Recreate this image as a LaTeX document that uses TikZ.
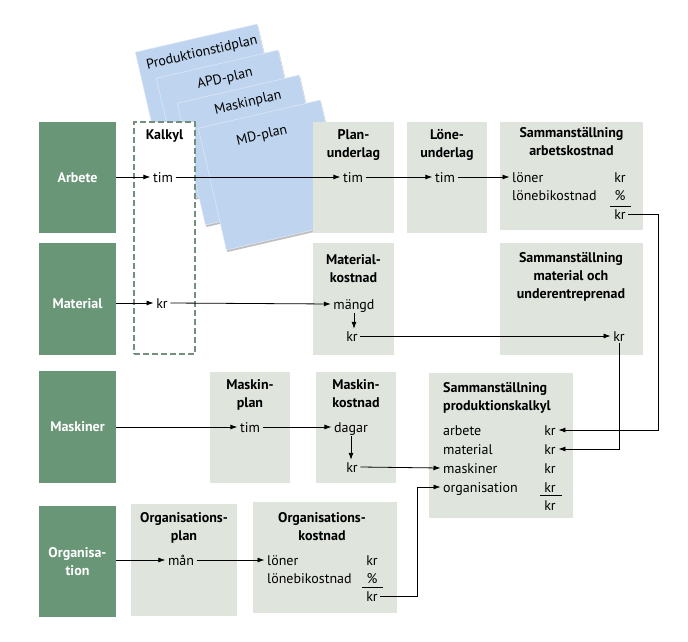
\documentclass[tikz,border=0pt]{standalone}
\usepackage{fontspec}
\setmainfont{PT Sans}
\usetikzlibrary{arrows.meta,shadows}
\definecolor{boxGreen}{HTML}{6A9678}
\definecolor{boxGrey}{HTML}{DFE5DD}
\definecolor{sheetBlue}{HTML}{BFD4EE}
\definecolor{dashGreen}{HTML}{73907E}
\begin{document}
\begin{tikzpicture}[x=1pt, y=-1pt,
    every node/.style={font=\fontsize{14}{18}\selectfont},
    greenStyle/.style={rectangle, fill=boxGreen, text=white, align=center, inner sep=0pt, minimum width=77pt, font=\fontsize{14}{18}\selectfont\bfseries},
    greyStyle/.style={rectangle, fill=boxGrey, inner sep=0pt},
    sheetStyle/.style={rectangle, fill=sheetBlue, draw=white!45!sheetBlue, line width=0.6pt, rotate=13, anchor=north west, minimum width=125pt, minimum height=125pt, drop shadow={shadow xshift=1pt, shadow yshift=-2pt, opacity=0.25, fill=black}},
    sheetText/.style={rotate=13, inner sep=0pt},
    titleStyle/.style={anchor=north, align=center, inner sep=0pt, font=\fontsize{14}{18}\selectfont\bfseries},
    valStyle/.style={inner xsep=2.5pt, inner ysep=2pt, text height=10pt, text depth=0pt},
    arrowStyle/.style={-{Latex[length=7pt,width=5pt]}, line width=0.8pt},
    ruleStyle/.style={line width=0.8pt}]
    \useasboundingbox (0,0) rectangle (688,642);

    % plan sheets
    \node[sheetStyle] (prodSheet) at (135,52) {};
    \node[sheetStyle] (apdSheet)  at (156,78) {};
    \node[sheetStyle] (maskSheet) at (177,103) {};
    \node[sheetStyle] (mdSheet)   at (198,128) {};
    \node[sheetText] (prodSheet_t) at (202,53)  {Produktionstidplan};
    \node[sheetText] (apdSheet_t)  at (225,79)  {APD-plan};
    \node[sheetText] (maskSheet_t) at (248,103) {Maskinplan};
    \node[sheetText] (mdSheet_t)   at (262,136) {MD-plan};

    % left column
    \node[greenStyle, minimum height=111pt] (arbete)       at (77.5,177.5) {Arbete};
    \node[greenStyle, minimum height=112pt, text height=18pt, text depth=0pt] (material) at (77.5,299) {Material};
    \node[greenStyle, minimum height=112pt] (maskiner)     at (77.5,427)   {Maskiner};
    \node[greenStyle, minimum height=111pt] (organisation) at (77.5,561.5) {Organisa-\\tion};

    \node[rectangle, fill=white, draw=dashGreen, line width=1.6pt, dash pattern=on 6pt off 3pt, minimum width=61pt, minimum height=232pt] (kalkyl) at (164.5,238) {};

    % grey boxes
    \node[greyStyle, minimum width=81pt,  minimum height=111pt] (planBox)     at (353.5,177.5) {};
    \node[greyStyle, minimum width=80pt,  minimum height=111pt] (loneBox)     at (447,177.5)   {};
    \node[greyStyle, minimum width=143pt, minimum height=108pt] (arbSumBox)   at (571.5,176)   {};
    \node[greyStyle, minimum width=81pt,  minimum height=112pt] (matBox)      at (353.5,299)   {};
    \node[greyStyle, minimum width=143pt, minimum height=112pt] (matSumBox)   at (571.5,299)   {};
    \node[greyStyle, minimum width=80pt,  minimum height=111pt] (maskPlanBox) at (250,427.5)   {};
    \node[greyStyle, minimum width=80pt,  minimum height=111pt] (maskCostBox) at (356,427.5)   {};
    \node[greyStyle, minimum width=144pt, minimum height=145pt] (prodBox)     at (501,445.5)   {};
    \node[greyStyle, minimum width=106pt, minimum height=112pt] (orgPlanBox)  at (184,560)     {};
    \node[greyStyle, minimum width=144pt, minimum height=111pt] (orgCostBox)  at (325,557.5)   {};

    % titles
    \node[titleStyle] (kalkyl_t)   at (164.5,129) {Kalkyl};
    \node[titleStyle] (plan_t)     at (353.5,129) {Plan-\\underlag};
    \node[titleStyle] (lone_t)     at (447,129)   {Löne-\\underlag};
    \node[titleStyle] (arbSum_t)   at (571.5,127) {Sammanställning\\arbetskostnad};
    \node[titleStyle] (mat_t)      at (353.5,254) {Material-\\kostnad};
    \node[titleStyle] (matSum_t)   at (571,252)   {Sammanställning\\material och\\underentreprenad};
    \node[titleStyle] (maskPlan_t) at (250,379)   {Maskin-\\plan};
    \node[titleStyle] (maskCost_t) at (356,379)   {Maskin-\\kostnad};
    \node[titleStyle, anchor=north west, align=left] (prod_t) at (443,382) {Sammanställning\\produktionskalkyl};
    \node[titleStyle] (orgPlan_t)  at (184,512)   {Organisations-\\plan};
    \node[titleStyle] (orgCost_t)  at (322,512)   {Organisations-\\kostnad};

    % values
    \node[valStyle] (arbKalk_tim) at (163,177) {tim};
    \node[valStyle] (planTim)     at (353,177) {tim};
    \node[valStyle] (loneTim)     at (445,177) {tim};
    \node[valStyle, anchor=west] (arbLoner)  at (509.5,177) {löner};
    \node[valStyle, anchor=west] (arbBikost) at (509.5,195) {lönebikostnad};
    \node[valStyle] (arbKr)    at (620,177) {kr};
    \node[valStyle] (arbPct)   at (620,195) {\%};
    \node[valStyle] (arbSumKr) at (620,214) {kr};

    \node[valStyle] (matKalk_kr) at (162,303) {kr};
    \node[valStyle] (matMangd)   at (354,304) {mängd};
    \node[valStyle] (matKr)      at (352,336) {kr};
    \node[valStyle] (matSumKr)   at (619,336) {kr};

    \node[valStyle] (maskTim)   at (250,427) {tim};
    \node[valStyle] (maskDagar) at (351,427) {dagar};
    \node[valStyle] (maskKr)    at (352,467) {kr};

    \node[valStyle, anchor=west] (prodArb)  at (440.5,430) {arbete};
    \node[valStyle, anchor=west] (prodMat)  at (440.5,449) {material};
    \node[valStyle, anchor=west] (prodMask) at (440.5,468) {maskiner};
    \node[valStyle, anchor=west] (prodOrg)  at (440.5,487) {organisation};
    \node[valStyle] (prodArbKr)  at (550,430) {kr};
    \node[valStyle] (prodMatKr)  at (550,449) {kr};
    \node[valStyle] (prodMaskKr) at (550,468) {kr};
    \node[valStyle] (prodOrgKr)  at (550,487) {kr};
    \node[valStyle] (prodSumKr)  at (550,505) {kr};

    \node[valStyle] (orgMan) at (181,560) {mån};
    \node[valStyle, anchor=west] (orgLoner)  at (264.5,560) {löner};
    \node[valStyle, anchor=west] (orgBikost) at (264.5,578) {lönebikostnad};
    \node[valStyle] (orgKr)    at (372,560) {kr};
    \node[valStyle] (orgPct)   at (372,578) {\%};
    \node[valStyle] (orgSumKr) at (372,596) {kr};

    % sum rules
    \draw[ruleStyle] (610,206) -- (631,206);
    \draw[ruleStyle] (540,495) -- (562,495);
    \draw[ruleStyle] (362,587) -- (383,587);

    \coordinate (arbBend) at (658,214);
    \coordinate (orgBend) at (417,596);

    % connectors
    \draw[arrowStyle] (arbete.east |- arbKalk_tim) -- (arbKalk_tim.west);
    \draw[arrowStyle] (arbKalk_tim.east) -- (planTim.west);
    \draw[arrowStyle] (planTim.east) -- (loneTim.west);
    \draw[arrowStyle] (loneTim.east) -- (arbLoner.west);
    \draw[arrowStyle] (arbSumKr.east) -- (arbBend) |- (prodArbKr.east);

    \draw[arrowStyle] (material.east |- matKalk_kr) -- (matKalk_kr.west);
    \draw[arrowStyle] (matKalk_kr.east) -- (matMangd.west);
    \draw[arrowStyle, shorten <=2pt] (matMangd.south) -- (matMangd.south |- matKr.north);
    \draw[arrowStyle] (matKr.east) -- (matSumKr.west);
    \draw[arrowStyle] (matSumKr.south) |- (prodMatKr.east);

    \draw[arrowStyle] (maskiner.east |- maskTim) -- (maskTim.west);
    \draw[arrowStyle] (maskTim.east) -- (maskDagar.west);
    \draw[arrowStyle, shorten <=2pt] (maskDagar.south) -- (maskDagar.south |- maskKr.north);
    \draw[arrowStyle] (maskKr.east) -- (prodMask.west);

    \draw[arrowStyle] (organisation.east |- orgMan) -- (orgMan.west);
    \draw[arrowStyle] (orgMan.east) -- (orgLoner.west);
    \draw[arrowStyle] (orgSumKr.east) -- (orgBend) |- (prodOrg.west);
\end{tikzpicture}
\end{document}
